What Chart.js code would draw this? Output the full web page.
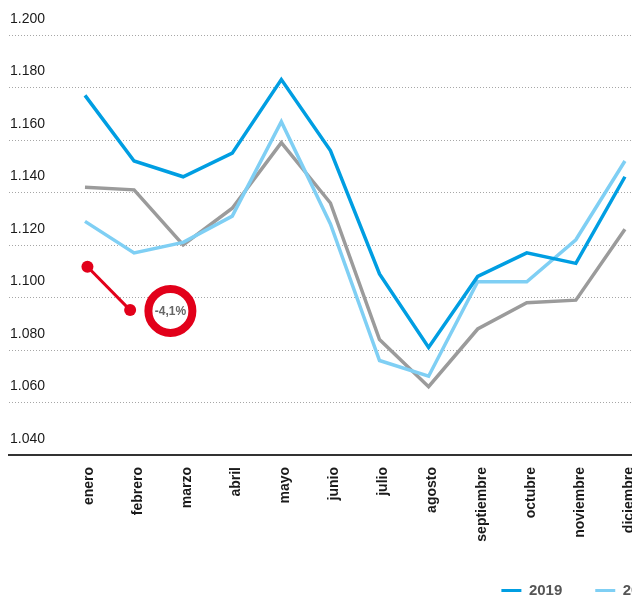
<!DOCTYPE html>
<html>
<head>
<meta charset="utf-8">
<script src="https://cdn.jsdelivr.net/npm/chart.js@4/dist/chart.umd.min.js"></script>
<style>
  html, body { margin: 0; padding: 0; background: #fff; overflow: hidden; }
  #wrap { position: absolute; left: 0; top: 0; width: 783px; height: 608px; }
</style>
</head>
<body>
<div id="wrap"><canvas id="chartMeses"></canvas></div>
<script>
// === Datos ===
const meses = ['enero', 'febrero', 'marzo', 'abril', 'mayo', 'junio', 'julio',
  'agosto', 'septiembre', 'octubre', 'noviembre', 'diciembre'];
const anios = ['2019', '2020', '2021'];
const serie2019 = [1177, 1152, 1146, 1155, 1183, 1156, 1109, 1081, 1108, 1117, 1113, 1146];
const serie2020 = [1129, 1117, 1121, 1131, 1167, 1128, 1076, 1070, 1106, 1106, 1122, 1152];
const serie2021 = [1142, 1141, 1120, 1134, 1159, 1136, 1084, 1066, 1088, 1098, 1099, 1126];
const colores = ['#009ee2', '#7fcff4', '#9b9b9b'];
const yTicks = [1040, 1060, 1080, 1100, 1120, 1140, 1160, 1180, 1200];

// anotación -4,1 %
const flechaX = [0.05, 0.92];
const flechaY = [1111.7, 1095.2];
const circuloX = [1.74];
const circuloY = [1094.9];
const etiquetaCirculo = '-4,1%';
const rojo = '#e2001a';

const fmtMiles = v => {
  const s = String(v);
  return s.length > 3 ? s.slice(0, s.length - 3) + '.' + s.slice(-3) : s;
};

const puntos = arr => arr.map((v, i) => ({ x: i, y: v }));
const series = [serie2019, serie2020, serie2021];

const datasets = series.map((s, i) => ({
  label: anios[i],
  data: puntos(s),
  borderColor: colores[i],
  backgroundColor: colores[i],
  borderWidth: 3.5,
  pointRadius: 0,
  tension: 0,
  order: 0
}));

datasets.push({
  label: 'flecha',
  data: flechaX.map((x, i) => ({ x: x, y: flechaY[i] })),
  borderColor: rojo,
  backgroundColor: rojo,
  borderWidth: 3,
  pointRadius: 6,
  pointBorderWidth: 0,
  pointBackgroundColor: rojo,
  order: -1
});
datasets.push({
  label: 'circulo',
  data: circuloX.map((x, i) => ({ x: x, y: circuloY[i] })),
  showLine: false,
  pointRadius: 22,
  pointBorderWidth: 8,
  pointBorderColor: rojo,
  pointBackgroundColor: '#fff',
  order: -2
});

// texto dentro del círculo
const textoCirculo = {
  id: 'textoCirculo',
  afterDatasetsDraw(chart) {
    const idx = chart.data.datasets.findIndex(d => d.label === 'circulo');
    const p = chart.getDatasetMeta(idx).data[0];
    const ctx = chart.ctx;
    ctx.save();
    ctx.font = 'bold 12px "Liberation Sans", Arial, sans-serif';
    ctx.fillStyle = '#666';
    ctx.textAlign = 'center';
    ctx.textBaseline = 'middle';
    ctx.fillText(etiquetaCirculo, p.x, p.y + 1);
    ctx.restore();
  }
};

const ctx = document.getElementById('chartMeses');
new Chart(ctx, {
  type: 'line',
  data: { datasets: datasets },
  plugins: [textoCirculo],
  options: {
    responsive: true,
    maintainAspectRatio: false,
    animation: false,
    layout: { autoPadding: false, padding: { left: 9, top: 35, right: 0, bottom: 0 } },
    scales: {
      x: {
        type: 'linear',
        min: -1.548,
        max: 14.22,
        afterBuildTicks: scale => { scale.ticks = meses.map((m, i) => ({ value: i })); },
        afterFit: scale => { scale.height = 95; },
        grid: { display: false, drawTicks: false },
        border: { display: true, color: '#333', width: 2 },
        ticks: {
          autoSkip: false,
          minRotation: 90,
          maxRotation: 90,
          padding: 12,
          labelOffset: 4,
          color: '#1a1a1a',
          font: { family: '"Liberation Sans", Arial, sans-serif', size: 14, weight: 'bold' },
          callback: v => meses[v]
        }
      },
      y: {
        min: 1040,
        max: 1200,
        afterBuildTicks: scale => { scale.ticks = yTicks.map(v => ({ value: v })); },
        afterFit: scale => { scale.width = 0; },
        grid: { color: '#a6a6a6', lineWidth: 1, drawTicks: false },
        border: { display: false, dash: [1, 2] },
        ticks: {
          mirror: true,
          padding: 1,
          labelOffset: -16,
          color: '#1a1a1a',
          font: { family: '"Liberation Sans", Arial, sans-serif', size: 14 },
          callback: v => fmtMiles(v)
        }
      }
    },
    plugins: {
      tooltip: { enabled: false },
      legend: {
        position: 'bottom',
        align: 'end',
        labels: {
          boxWidth: 20,
          boxHeight: 3,
          padding: 33,
          color: '#555',
          font: { family: '"Liberation Sans", Arial, sans-serif', size: 15, weight: 'bold' },
          filter: item => anios.includes(item.text),
          generateLabels: chart => Chart.defaults.plugins.legend.labels.generateLabels(chart)
            .map(l => Object.assign(l, { lineWidth: 0 }))
        }
      }
    }
  }
});
</script>
</body>
</html>
